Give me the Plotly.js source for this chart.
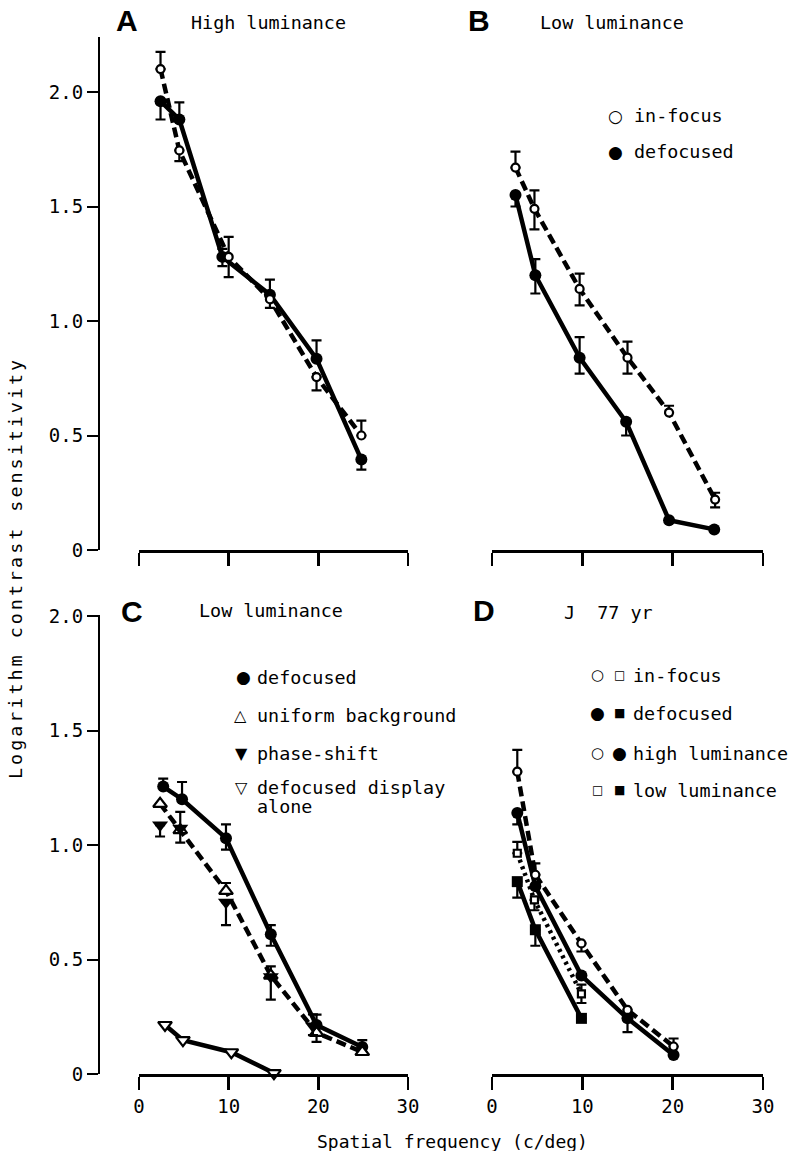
<!DOCTYPE html>
<html><head><meta charset="utf-8">
<script src="https://cdn.plot.ly/plotly-3.0.1.min.js"></script>
<style>html,body{margin:0;padding:0;background:#fff}</style>
</head><body>
<div id="chart" style="width:791px;height:1151px"></div>
<script>
// ---------------- data ----------------
const xTickVals = [0, 10, 20, 30];
const xTickText = ['0', '10', '20', '30'];
const yTickVals = [0, 0.5, 1.0, 1.5, 2.0];
const yTickText = ['0', '0.5', '1.0', '1.5', '2.0'];

// Panel A  (High luminance)
const aInFreq  = [2.4, 4.5, 10.0, 14.6, 19.8, 24.8];
const aIn      = [2.10, 1.745, 1.28, 1.095, 0.755, 0.50];
const aInUp    = [0.075, 0, 0.087, 0.086, 0, 0.065];
const aInDown  = [0, 0.047, 0.088, 0.038, 0.058, 0];
const aDefFreq = [2.4, 4.5, 9.3, 14.6, 19.8, 24.8];
const aDef     = [1.96, 1.88, 1.28, 1.115, 0.835, 0.395];
const aDefUp   = [0, 0.075, 0.035, 0, 0.08, 0];
const aDefDown = [0.08, 0, 0.04, 0, 0, 0.044];

// Panel B  (Low luminance)
const bInFreq  = [2.6, 4.7, 9.7, 15.0, 19.6, 24.7];
const bIn      = [1.67, 1.49, 1.14, 0.84, 0.60, 0.22];
const bInUp    = [0.07, 0.08, 0.067, 0.07, 0.03, 0.03];
const bInDown  = [0, 0.09, 0.072, 0.07, 0, 0.034];
const bDefFreq = [2.6, 4.8, 9.7, 14.85, 19.6, 24.6];
const bDef     = [1.55, 1.20, 0.84, 0.56, 0.13, 0.09];
const bDefUp   = [0, 0.07, 0.09, 0, null, null];
const bDefDown = [0.05, 0.08, 0.07, 0.06, null, null];

// Panel C  (Low luminance)
const cDefFreq   = [2.7, 4.8, 9.7, 14.7, 19.8, 24.9];
const cDef       = [1.255, 1.20, 1.03, 0.61, 0.214, 0.118];
const cDefUp     = [0.035, 0.075, 0.06, 0.04, 0.045, 0.03];
const cDefDown   = [0, 0, 0.05, 0.05, 0, 0];
const cUniFreq   = [2.35, 4.6, 9.7, 14.7, 19.8, 24.9];
const cUni       = [1.18, 1.065, 0.80, 0.43, 0.18, 0.096];
const cUniUp     = [0, 0.08, 0.034, 0.04, 0, 0];
const cUniDown   = [0, 0.055, 0, 0, 0.04, 0];
const cPhaseFreq = [2.35, 4.6, 9.7, 14.7, 19.4];
const cPhase     = [1.087, 1.073, 0.75, 0.425, 0.21];
const cPhaseUp   = [0, 0, 0, 0, 0.05];
const cPhaseDown = [0.05, 0, 0.10, 0.10, 0.04];
const cAloneFreq = [2.9, 4.9, 10.3, 15.05];
const cAlone     = [0.214, 0.148, 0.095, 0.004];

// Panel D  (J 77 yr)
const dFreq       = [2.8, 4.8, 9.9, 15.0, 20.1];
const dInHigh     = [1.32, 0.87, 0.57, 0.28, 0.12];
const dInHighUp   = [0.095, 0.05, 0, 0, 0.035];
const dInHighDown = [0, 0, 0.035, 0, 0];
const dDefHigh     = [1.14, 0.82, 0.43, 0.243, 0.083];
const dDefHighUp   = [0, 0, 0, 0, 0];
const dDefHighDown = [0.05, 0, 0, 0.06, 0];
const dLowFreq    = [2.8, 4.7, 9.9];
const dInLow      = [0.964, 0.76, 0.35];
const dInLowUp    = [0.05, 0, 0.04];
const dInLowDown  = [0, 0.045, 0.04];
const dDefLowFreq = [2.8, 4.8, 9.9];
const dDefLow     = [0.84, 0.63, 0.243];
const dDefLowUp   = [0, 0, 0];
const dDefLowDown = [0.07, 0.07, 0];

// ---------------- helpers ----------------
const W = 791, H = 1151;
const fx = p => p / W;
const fy = p => 1 - p / H;
const MONO = 'DejaVu Sans Mono, monospace';
const SYM = 'DejaVu Sans, sans-serif';
const TXT = 18.4;
const PX_PER_UNIT = 229;

const FILLED_CIRCLE = {symbol: 'circle', size: 12, color: 'black'};
const OPEN_CIRCLE = {symbol: 'circle', size: 8, color: 'white', line: {color: 'black', width: 2.2}};
const OPEN_TRI_UP = {symbol: 'triangle-up', size: 12, color: 'white', line: {color: 'black', width: 2.2}};
const FILLED_TRI_DOWN = {symbol: 'triangle-down', size: 14, color: 'black'};
const OPEN_TRI_DOWN = {symbol: 'triangle-down', size: 12, color: 'white', line: {color: 'black', width: 2.2}};
const OPEN_SQUARE = {symbol: 'square', size: 7, color: 'white', line: {color: 'black', width: 2.2}};
const FILLED_SQUARE = {symbol: 'square', size: 11, color: 'black'};

const SOLID = {color: 'black', width: 4.5};
const DASH = {color: 'black', width: 4.5, dash: '10px,5px'};
const DOT = {color: 'black', width: 4.5, dash: '3px,4px'};

function tr(x, y, up, dn, xa, ya, marker, line) {
  const t = {
    type: 'scatter', x: x, y: y, xaxis: xa, yaxis: ya,
    mode: line ? 'lines+markers' : 'markers',
    marker: marker, cliponaxis: false, hoverinfo: 'skip'
  };
  if (line) t.line = line;
  if (up) t.error_y = {type: 'data', symmetric: false, array: up, arrayminus: dn,
                       color: 'black', thickness: 2.2, width: 5};
  return t;
}

const data = [
  // A
  tr(aDefFreq, aDef, aDefUp, aDefDown, 'x', 'y', FILLED_CIRCLE, SOLID),
  tr(aInFreq, aIn, aInUp, aInDown, 'x', 'y', OPEN_CIRCLE, DASH),
  // B
  tr(bDefFreq, bDef, bDefUp, bDefDown, 'x2', 'y2', FILLED_CIRCLE, SOLID),
  tr(bInFreq, bIn, bInUp, bInDown, 'x2', 'y2', OPEN_CIRCLE, DASH),
  // C
  tr(cDefFreq, cDef, cDefUp, cDefDown, 'x3', 'y3', FILLED_CIRCLE, SOLID),
  tr(cUniFreq, cUni, cUniUp, cUniDown, 'x3', 'y3', OPEN_TRI_UP, DASH),
  tr(cPhaseFreq, cPhase, cPhaseUp, cPhaseDown, 'x3', 'y3', FILLED_TRI_DOWN, null),
  tr(cAloneFreq, cAlone, null, null, 'x3', 'y3', OPEN_TRI_DOWN, SOLID),
  // D
  tr(dDefLowFreq, dDefLow, dDefLowUp, dDefLowDown, 'x4', 'y4', FILLED_SQUARE, SOLID),
  tr(dLowFreq, dInLow, dInLowUp, dInLowDown, 'x4', 'y4', OPEN_SQUARE, DOT),
  tr(dFreq, dDefHigh, dDefHighUp, dDefHighDown, 'x4', 'y4', FILLED_CIRCLE, SOLID),
  tr(dFreq, dInHigh, dInHighUp, dInHighDown, 'x4', 'y4', OPEN_CIRCLE, DASH)
];

function xAxis(left, right, anchor, labels) {
  return {
    domain: [fx(left), fx(right)], range: [0, 30], anchor: anchor,
    tickvals: xTickVals, ticktext: xTickText, showticklabels: labels,
    ticks: 'outside', ticklen: 13, tickwidth: 2.5, tickcolor: 'black',
    showline: true, linewidth: 3, linecolor: 'black',
    showgrid: false, zeroline: false, fixedrange: true,
    tickfont: {family: MONO, size: 19, color: 'black'}
  };
}
// y axis: zero at pixel row `zeroPx`, running up to value `top`
function yAxis(zeroPx, top, visible) {
  return {
    domain: [fy(zeroPx), fy(zeroPx - top * PX_PER_UNIT)], range: [0, top],
    anchor: 'free', position: fx(99), visible: visible,
    tickvals: yTickVals, ticktext: yTickText,
    ticks: 'outside', ticklen: 11, tickwidth: 2, tickcolor: 'black',
    showline: true, linewidth: 2, linecolor: 'black',
    showgrid: false, zeroline: false, fixedrange: true,
    tickfont: {family: MONO, size: 19, color: 'black'}
  };
}

function ann(text, x, y, opts) {
  return Object.assign({
    text: text, xref: 'paper', yref: 'paper', x: fx(x), y: fy(y),
    xanchor: 'center', yanchor: 'middle', showarrow: false,
    font: {family: MONO, size: TXT, color: 'black'}
  }, opts || {});
}
function letter(t, x, y) {
  return ann(t, x, y, {font: {family: 'Liberation Sans, Arial, sans-serif', size: 30, color: 'black', weight: 'bold'}});
}
function sym(t, x, y, size) {
  return ann(t, x, y, {font: {family: SYM, size: size, color: 'black'}});
}
function lab(t, x, y) {
  return ann(t, x, y, {xanchor: 'left'});
}

const annotations = [
  letter('A', 127, 20), ann('High luminance', 268, 22),
  letter('B', 479, 20), ann('Low luminance', 612, 22),
  letter('C', 132, 611), ann('Low luminance', 271, 610),
  letter('D', 484, 610), ann('J\u00a0\u00a077\u00a0yr', 608, 612),
  // legend B
  sym('\u25CB', 615, 116, 17), lab('in-focus', 632, 116),
  sym('\u25CF', 615, 152, 17), lab('defocused', 632, 152),
  // legend C
  sym('\u25CF', 243, 677, 17), lab('defocused', 255, 677),
  sym('\u25B3', 240, 715, 16), lab('uniform background', 255, 715),
  sym('\u25BC', 241, 753, 16), lab('phase-shift', 255, 753),
  sym('\u25BD', 241, 787, 16), lab('defocused display', 255, 787),
  lab('alone', 255, 806),
  // legend D
  sym('\u25CB', 597, 675, 15), sym('\u25A1', 619, 675, 12), lab('in-focus', 631, 675),
  sym('\u25CF', 597, 713, 17), sym('\u25A0', 619, 713, 12), lab('defocused', 631, 713),
  sym('\u25CB', 597, 753, 15), sym('\u25CF', 619, 753, 17), lab('high luminance', 631, 753),
  sym('\u25A1', 597, 790, 12), sym('\u25A0', 619, 790, 12), lab('low luminance', 631, 790),
  // axis titles
  ann('Spatial frequency (c/deg)', 452, 1141, {font: {family: MONO, size: 18, color: 'black'}}),
  ann('Logarithm contrast sensitivity', 15, 568, {textangle: -90})
];

const layout = {
  width: W, height: H,
  margin: {l: 0, r: 0, t: 0, b: 0},
  paper_bgcolor: 'white', plot_bgcolor: 'rgba(0,0,0,0)',
  showlegend: false,
  font: {family: MONO, size: 19, color: 'black'},
  xaxis: xAxis(139, 408, 'y', false),
  xaxis2: xAxis(492, 763, 'y2', false),
  xaxis3: xAxis(139, 408, 'y3', true),
  xaxis4: xAxis(492, 763, 'y4', true),
  yaxis: yAxis(550, 2.24, true),
  yaxis2: yAxis(550, 2.24, false),
  yaxis3: yAxis(1074, 2.004, true),
  yaxis4: yAxis(1074, 2.004, false),
  annotations: annotations
};

Plotly.newPlot('chart', data, layout, {staticPlot: true}).then(function () {
  document.querySelectorAll('.annotation-text').forEach(function (el) {
    if (el.textContent === 'Logarithm contrast sensitivity') {
      el.style.letterSpacing = '3px';
    }
  });
});
</script>
</body></html>
